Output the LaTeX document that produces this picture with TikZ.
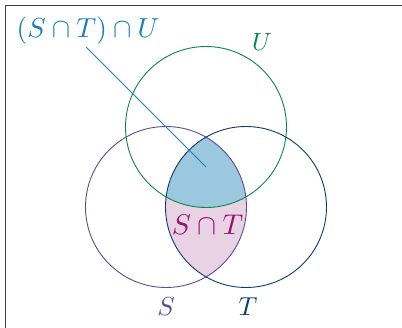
\documentclass[tikz,border=0pt]{standalone}
\definecolor{ucol}{RGB}{10,135,75}
\definecolor{scol}{RGB}{95,75,150}
\definecolor{tcol}{RGB}{10,60,110}
\definecolor{labcol}{RGB}{25,125,185}
\definecolor{bluefill}{RGB}{155,200,222}
\definecolor{pinkfill}{RGB}{232,210,228}
\definecolor{stcol}{RGB}{150,20,110}
\begin{document}
\begin{tikzpicture}[x=1pt,y=-1pt,
  setcircle/.style={line width=0.9pt},
  lbl/.style={inner sep=0pt}]
\useasboundingbox (0,0) rectangle (402,327);
\clip (0,0) rectangle (402,327);
\coordinate (cU) at (206,127);
\coordinate (cS) at (166,207);
\coordinate (cT) at (246,207);
% S cap T
\begin{scope}
  \clip (cS) circle (80.5);
  \fill[pinkfill] (cT) circle (80.5);
  \clip (cT) circle (80.5);
  \fill[bluefill] (cU) circle (80.5);
\end{scope}
\draw[setcircle,ucol] (cU) circle (80.5);
\draw[setcircle,scol] (cS) circle (80.5);
\draw[setcircle,tcol] (cT) circle (80.5);
% frame
\draw[line width=1pt,black!75] (5.3,340) -- (5.3,5.3) -- (420,5.3);
% labels
\node[lbl,ucol,scale=2.5] (lU) at (262,42) {$U$};
\node[lbl,scol,scale=2.6] (lS) at (166,307) {$S$};
\node[lbl,tcol,scale=2.6] (lT) at (248,307) {$T$};
\node[lbl,stcol,scale=2.85] (lST) at (207.5,225) {$S\cap T$};
\node[lbl,labcol,scale=2.75] (lab) at (88,31) {$(S\cap T)\cap U$};
\coordinate (start) at (86,47);
\coordinate (tip) at (206,167);
\draw[labcol,line width=0.9pt] (start) -- (tip);
\end{tikzpicture}
\end{document}
